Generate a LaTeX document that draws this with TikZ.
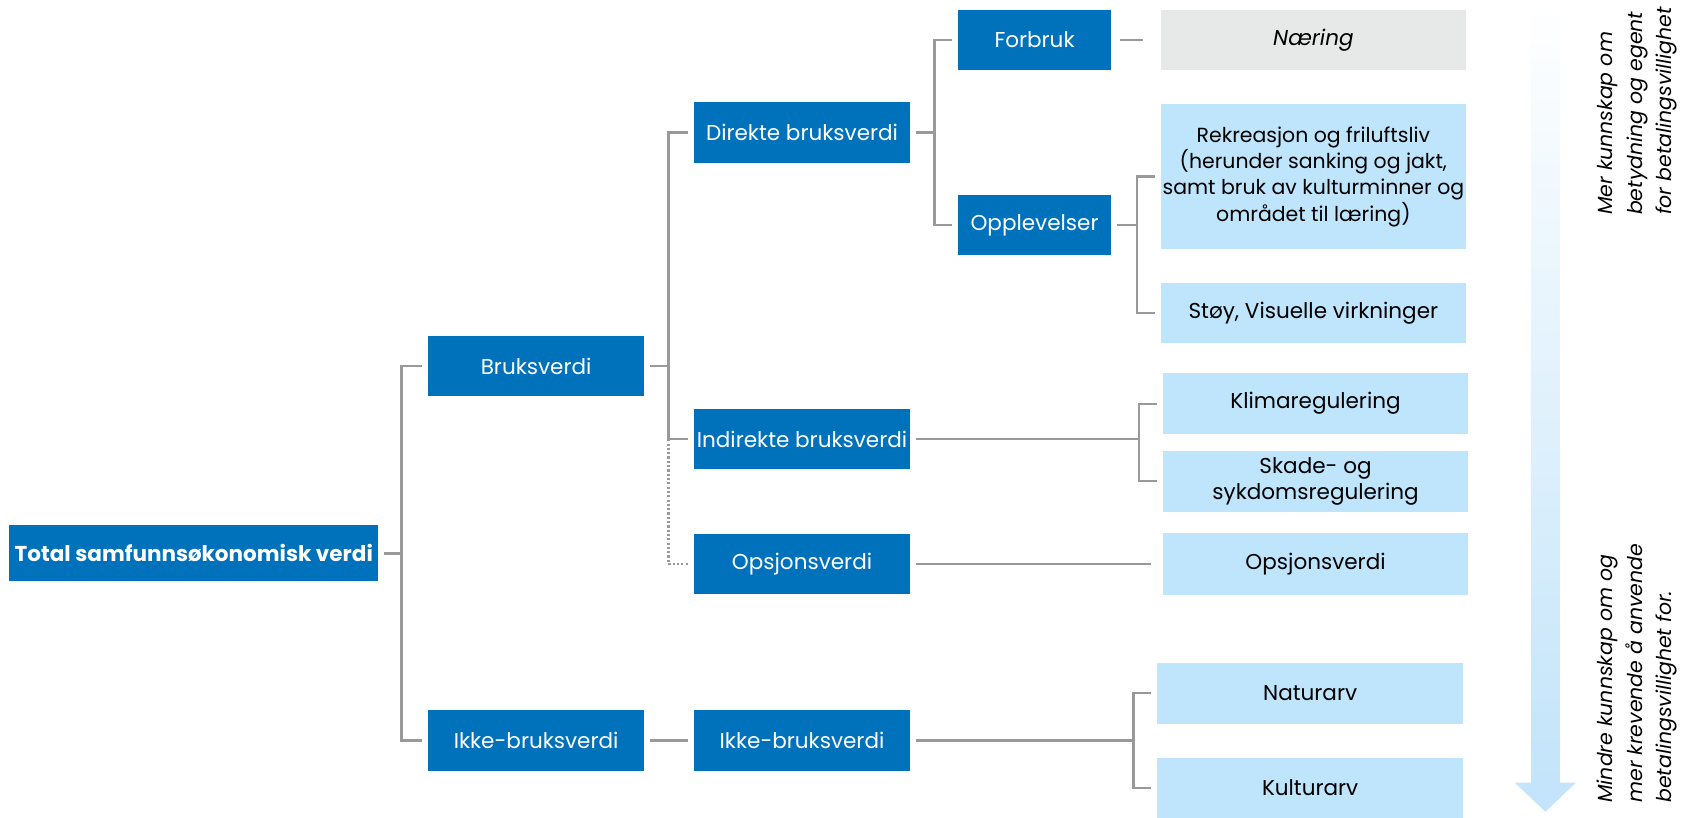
\documentclass[tikz,border=0pt]{standalone}
\usepackage{fontspec}
\setmainfont{Poppins}
\usepackage{tikz}
\definecolor{darkbox}{HTML}{0072BC}
\definecolor{lightbox}{HTML}{BEE5FC}
\definecolor{greybox}{HTML}{E7E8E8}
\definecolor{linegrey}{HTML}{999999}
\definecolor{arrowblue}{HTML}{C3E4FA}
\begin{document}
\begin{tikzpicture}[x=0.5pt, y=-0.5pt,
  every node/.style={font=\fontsize{10}{12.2}\selectfont, inner sep=0pt},
  dark/.style={fill=darkbox, text=white, minimum width=100.5pt, minimum height=28pt},
  light/.style={fill=lightbox, text=black, minimum width=142pt, minimum height=28.5pt, align=center},
  stub/.style={draw=linegrey, line width=1.1pt, shorten <=2.5pt},
  branch/.style={draw=linegrey, line width=1.1pt, shorten >=2.5pt},
  link/.style={draw=linegrey, line width=1.1pt, shorten <=2.5pt, shorten >=2.5pt},
  side/.style={font=\itshape\fontsize{9.5}{13.7}\selectfont, rotate=90, anchor=west, align=left}]
         \useasboundingbox (0,0) rectangle (1568,759);
         % arrow on the right
         \shade [top color=white, bottom color=arrowblue] (1422,0) rectangle (1449,728);
         \fill [arrowblue] (1407,727) -- (1464,727) -- (1435.5,754) -- cycle;
         \node [side] (UP) at (1521,200) {Mer kunnskap om\\betydning og egent\\for betalingsvillighet};
         \node [side] (DN) at (1521,746) {Mindre kunnskap om og\\mer krevende å anvende\\betalingsvillighet for.};
         % boxes
         \node [dark, minimum width=171.5pt, minimum height=26pt, font=\bfseries\fontsize{10}{12}\selectfont] (TOT) at (180,514) {Total samfunnsøkonomisk verdi};
         \node [dark] (BV) at (498,340) {Bruksverdi};
         \node [dark, minimum height=28.5pt] (IBV) at (498,688) {Ikke-bruksverdi};
         \node [dark] (DBV) at (745,123) {Direkte bruksverdi};
         \node [dark] (INDBV) at (745,408) {Indirekte bruksverdi};
         \node [dark] (OV) at (745,524) {Opsjonsverdi};
         \node [dark, minimum height=28.5pt] (IBV2) at (745,688) {Ikke-bruksverdi};
         \node [dark, minimum width=71pt] (FB) at (961,37) {Forbruk};
         \node [dark, minimum width=71pt] (OPP) at (961,209) {Opplevelser};
         \node [light, fill=greybox, minimum height=28pt] (NAER) at (1220,37) {\itshape Næring};
         \node [light, minimum height=67pt, font=\fontsize{9.5}{12.2}\selectfont] (REK) at (1220,164) {Rekreasjon og friluftsliv\\(herunder sanking og jakt,\\samt bruk av kulturminner og\\området til læring)};
         \node [light, minimum height=28pt] (STOY) at (1220,291) {Støy, Visuelle virkninger};
         \node [light] (KLIMA) at (1222,375) {Klimaregulering};
         \node [light] (SKADE) at (1222,447) {Skade- og\\sykdomsregulering};
         \node [light] (OV2) at (1222,524) {Opsjonsverdi};
         \node [light] (NATUR) at (1217,644) {Naturarv};
         \node [light, minimum height=27.5pt] (KULTUR) at (1217,732) {Kulturarv};
         % connectors
         \draw [stub] (TOT.east) -- ++(21,0) coordinate (J1);
         \draw [branch] (J1) |- (BV.west);
         \draw [branch] (J1) |- (IBV.west);
         \draw [stub] (BV.east) -- ++(22,0) coordinate (J2);
         \draw [branch] (J2) |- (DBV.west);
         \draw [branch] (J2) |- (INDBV.west);
         \draw [branch, dash pattern=on 1pt off 1pt] (J2 |- INDBV.west) |- (OV.west);
         \draw [stub] (DBV.east) -- ++(22,0) coordinate (J3);
         \draw [branch] (J3) |- (FB.west);
         \draw [branch] (J3) |- (OPP.west);
         \draw [link, shorten <=4pt, shorten >=8pt] (FB) -- (NAER);
         \draw [stub] (OPP.east) -- ++(24,0) coordinate (J4);
         \draw [branch] (J4) |- (REK.west);
         \draw [branch] (J4) |- (STOY.west);
         \draw [stub] (INDBV.east) -- ++(212,0) coordinate (J5);
         \draw [branch] (J5) |- (KLIMA.west);
         \draw [branch] (J5) |- (SKADE.west);
         \draw [link, shorten >=5pt] (OV) -- (OV2);
         \draw [link] (IBV) -- (IBV2);
         \draw [stub] (IBV2.east) -- ++(207,0) coordinate (J6);
         \draw [branch] (J6) |- (NATUR.west);
         \draw [branch] (J6) |- (KULTUR.west);
 \end{tikzpicture}
\end{document}
